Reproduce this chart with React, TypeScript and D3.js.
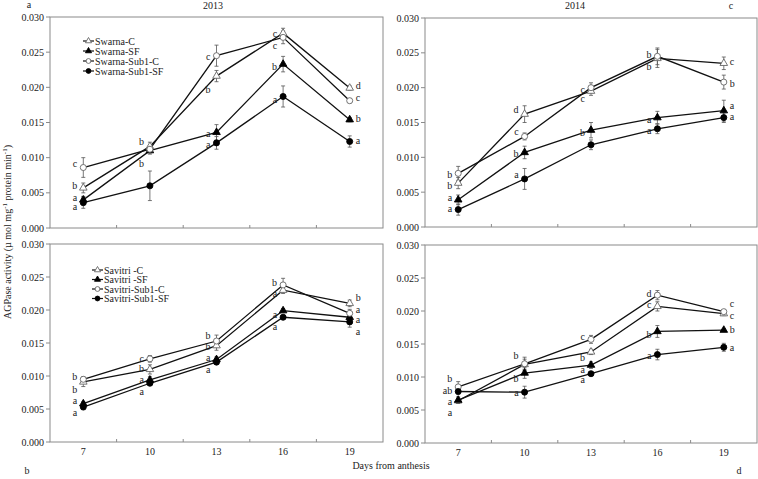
import React from "react";
import * as d3 from "d3";

// x categories (days from anthesis) and y ticks
const days = ["7", "10", "13", "16", "19"];
const yTicks = [0, 0.005, 0.01, 0.015, 0.02, 0.025, 0.03];

// a: Swarna 2013
const swarnaC13 = [0.0057, 0.0116, 0.0216, 0.0277, 0.0199];
const swarnaC13Err = [0.0007, 0.0006, 0.0008, 0.0007, 0.0003];
const swarnaSF13 = [0.004, 0.011, 0.0136, 0.0233, 0.0154];
const swarnaSF13Err = [0.0005, 0.0005, 0.0011, 0.0011, 0.0003];
const swarnaSubC13 = [0.0086, 0.0112, 0.0245, 0.0271, 0.0181];
const swarnaSubC13Err = [0.0014, 0.0005, 0.0015, 0.0009, 0.0003];
const swarnaSubSF13 = [0.0036, 0.006, 0.0121, 0.0187, 0.0123];
const swarnaSubSF13Err = [0.0008, 0.0021, 0.0009, 0.0015, 0.0008];
const swarnaLetters13 = [
  { day: "7", text: "c", at: 0.0091 }, { day: "7", text: "b", at: 0.0061 },
  { day: "7", text: "a", at: 0.0044 }, { day: "7", text: "a", at: 0.003 },
  { day: "10", text: "b", at: 0.0123 }, { day: "10", text: "b", at: 0.0092 },
  { day: "13", text: "c", at: 0.0244 }, { day: "13", text: "b", at: 0.0197 },
  { day: "13", text: "a", at: 0.0135 }, { day: "13", text: "a", at: 0.0119 },
  { day: "16", text: "c", at: 0.0276 }, { day: "16", text: "c", at: 0.026 },
  { day: "16", text: "b", at: 0.023 }, { day: "16", text: "a", at: 0.0182 },
  { day: "19", text: "d", at: 0.0202 }, { day: "19", text: "c", at: 0.0185 },
  { day: "19", text: "b", at: 0.0155 }, { day: "19", text: "a", at: 0.0124 },
];

// c: Swarna 2014
const swarnaC14 = [0.0063, 0.0162, 0.0195, 0.0242, 0.0235];
const swarnaC14Err = [0.0008, 0.0012, 0.0006, 0.0013, 0.0009];
const swarnaSF14 = [0.0039, 0.0107, 0.0139, 0.0157, 0.0167];
const swarnaSF14Err = [0.0007, 0.0009, 0.0011, 0.0009, 0.0015];
const swarnaSubC14 = [0.0077, 0.013, 0.02, 0.0245, 0.0208];
const swarnaSubC14Err = [0.001, 0.0005, 0.0007, 0.0012, 0.001];
const swarnaSubSF14 = [0.0025, 0.0069, 0.0118, 0.0141, 0.0157];
const swarnaSubSF14Err = [0.0008, 0.0015, 0.0007, 0.0007, 0.0007];
const swarnaLetters14 = [
  { day: "7", text: "b", at: 0.0076 }, { day: "7", text: "b", at: 0.006 },
  { day: "7", text: "a", at: 0.0043 }, { day: "7", text: "a", at: 0.0026 },
  { day: "10", text: "d", at: 0.0169 }, { day: "10", text: "c", at: 0.0137 },
  { day: "10", text: "b", at: 0.0106 }, { day: "10", text: "a", at: 0.0076 },
  { day: "13", text: "c", at: 0.0198 }, { day: "13", text: "c", at: 0.0184 },
  { day: "13", text: "b", at: 0.0136 },
  { day: "16", text: "b", at: 0.0248 }, { day: "16", text: "b", at: 0.0231 },
  { day: "16", text: "a", at: 0.0154 }, { day: "16", text: "a", at: 0.0138 },
  { day: "19", text: "c", at: 0.0237 }, { day: "19", text: "b", at: 0.0206 },
  { day: "19", text: "a", at: 0.0175 }, { day: "19", text: "a", at: 0.0159 },
];

// b: Savitri 2013
const savitriC13 = [0.0091, 0.011, 0.0146, 0.023, 0.021];
const savitriC13Err = [0.0007, 0.0007, 0.0007, 0.0005, 0.0005];
const savitriSF13 = [0.0058, 0.0094, 0.0125, 0.0199, 0.0189];
const savitriSF13Err = [0.0003, 0.0005, 0.0004, 0.0003, 0.0004];
const savitriSubC13 = [0.0095, 0.0126, 0.0153, 0.0238, 0.0195];
const savitriSubC13Err = [0.0004, 0.0005, 0.0009, 0.001, 0.0006];
const savitriSubSF13 = [0.0053, 0.0089, 0.0121, 0.0189, 0.0182];
const savitriSubSF13Err = [0.0004, 0.0003, 0.0003, 0.0003, 0.0008];
const savitriLetters13 = [
  { day: "7", text: "b", at: 0.0099 }, { day: "7", text: "b", at: 0.008 },
  { day: "7", text: "a", at: 0.0063 }, { day: "7", text: "a", at: 0.0045 },
  { day: "10", text: "c", at: 0.0127 }, { day: "10", text: "b", at: 0.0112 },
  { day: "10", text: "a", at: 0.0094 }, { day: "10", text: "a", at: 0.0077 },
  { day: "13", text: "b", at: 0.0161 }, { day: "13", text: "b", at: 0.0144 },
  { day: "13", text: "a", at: 0.0128 }, { day: "13", text: "a", at: 0.011 },
  { day: "16", text: "b", at: 0.0242 }, { day: "16", text: "a", at: 0.0225 },
  { day: "16", text: "a", at: 0.0193 }, { day: "16", text: "a", at: 0.0175 },
  { day: "19", text: "b", at: 0.0219 }, { day: "19", text: "a", at: 0.0201 },
  { day: "19", text: "a", at: 0.0185 }, { day: "19", text: "a", at: 0.0168 },
];

// d: Savitri 2014
const savitriC14 = [0.0064, 0.0119, 0.0138, 0.0207, 0.0196];
const savitriC14Err = [0.0004, 0.0008, 0.0004, 0.0007, 0.0003];
const savitriSF14 = [0.0065, 0.0106, 0.0118, 0.0169, 0.0171];
const savitriSF14Err = [0.0005, 0.0008, 0.0005, 0.0009, 0.0002];
const savitriSubC14 = [0.0085, 0.012, 0.0157, 0.0224, 0.0199];
const savitriSubC14Err = [0.0008, 0.001, 0.0006, 0.0007, 0.0003];
const savitriSubSF14 = [0.0078, 0.0077, 0.0105, 0.0134, 0.0145];
const savitriSubSF14Err = [0.0004, 0.0009, 0.0003, 0.0008, 0.0006];
const savitriLetters14 = [
  { day: "7", text: "b", at: 0.0098 }, { day: "7", text: "ab", at: 0.0079 },
  { day: "7", text: "a", at: 0.0063 }, { day: "7", text: "a", at: 0.0046 },
  { day: "10", text: "b", at: 0.0132 }, { day: "10", text: "b", at: 0.0098 },
  { day: "10", text: "a", at: 0.0077 },
  { day: "13", text: "c", at: 0.0161 }, { day: "13", text: "b", at: 0.013 },
  { day: "13", text: "a", at: 0.0112 }, { day: "13", text: "a", at: 0.0096 },
  { day: "16", text: "d", at: 0.0227 }, { day: "16", text: "c", at: 0.021 },
  { day: "16", text: "b", at: 0.0165 }, { day: "16", text: "a", at: 0.0132 },
  { day: "19", text: "c", at: 0.0211 }, { day: "19", text: "c", at: 0.0193 },
  { day: "19", text: "b", at: 0.0172 }, { day: "19", text: "a", at: 0.0144 },
];

const swarnaNames = ["Swarna-C", "Swarna-SF", "Swarna-Sub1-C", "Swarna-Sub1-SF"];
const savitriNames = ["Savitri -C", "Savitri -SF", "Savitri-Sub1-C", "Savitri-Sub1-SF"];

// marker per series: C open triangle, SF filled triangle, Sub1-C open circle, Sub1-SF filled circle
const markers = [
  { shape: d3.symbolTriangle, filled: false },
  { shape: d3.symbolTriangle, filled: true },
  { shape: d3.symbolCircle, filled: false },
  { shape: d3.symbolCircle, filled: true },
];

const FONT = "'Liberation Serif', 'Times New Roman', serif";
const TXT = "#222";
const FRAME = "#8a8a8a";

function Marker({ i, x, y, size }) {
  const m = markers[i];
  const s = m.shape === d3.symbolTriangle ? size : size * 1.15;
  const path = d3.symbol(m.shape, s)();
  return (
    <path
      d={path}
      transform={`translate(${x},${y})`}
      fill={m.filled ? "#000" : "#fff"}
      stroke={m.filled ? "#000" : "#666"}
      strokeWidth={0.9}
    />
  );
}

function Panel({ box, series, errors, letters, names, legendAt, showX }) {
  const x = d3.scaleBand().domain(days).range([box.x0, box.x1]);
  const y = d3.scaleLinear().domain([0, 0.03]).range([box.y1, box.y0]);
  const cx = (d) => x(d) + x.bandwidth() / 2;
  const line = d3.line().x((d, i) => cx(days[i])).y((d) => y(d));
  const bounds = days.slice(1).map((d) => x(d));

  return (
    <g>
      <rect x={box.x0} y={box.y0} width={box.x1 - box.x0} height={box.y1 - box.y0}
        fill="none" stroke={FRAME} strokeWidth={1} />
      {yTicks.map((t) => (
        <g key={t}>
          <line x1={box.x0 - 4} x2={box.x0} y1={y(t)} y2={y(t)} stroke={FRAME} />
          <text x={box.x0 - 6} y={y(t)} dy="0.35em" textAnchor="end" fontSize={10}
            fontFamily={FONT} fill={TXT}>{d3.format(".3f")(t)}</text>
        </g>
      ))}
      {bounds.map((b) => (
        <line key={b} x1={b} x2={b} y1={box.y1} y2={box.y1 - 3} stroke={FRAME} />
      ))}
      {showX && days.map((d) => (
        <text key={d} x={cx(d)} y={box.y1 + 13} textAnchor="middle" fontSize={10}
          fontFamily={FONT} fill={TXT}>{d}</text>
      ))}
      {series.map((s, si) => (
        <path key={"l" + si} d={line(s)} fill="none" stroke="#111" strokeWidth={1.3} />
      ))}
      {series.map((s, si) => (
        <g key={"e" + si}>
          {s.map((v, i) => {
            const px = cx(days[i]);
            const e = errors[si][i];
            return (
              <g key={i} stroke="#555" strokeWidth={0.8}>
                <line x1={px} x2={px} y1={y(v - e)} y2={y(v + e)} />
                <line x1={px - 2} x2={px + 2} y1={y(v - e)} y2={y(v - e)} />
                <line x1={px - 2} x2={px + 2} y1={y(v + e)} y2={y(v + e)} />
              </g>
            );
          })}
        </g>
      ))}
      {series.map((s, si) => (
        <g key={"m" + si}>
          {s.map((v, i) => (
            <Marker key={i} i={si} x={cx(days[i])} y={y(v)} size={25} />
          ))}
        </g>
      ))}
      {letters.map((l, li) => {
        const right = l.day === "19";
        return (
          <text key={li} x={right ? cx(l.day) + 6 : cx(l.day) - 6} y={y(l.at)} dy="0.35em"
            textAnchor={right ? "start" : "end"} fontSize={10} fontFamily={FONT} fill={TXT}>
            {l.text}
          </text>
        );
      })}
      {names.map((n, i) => {
        const ly = legendAt.y + i * legendAt.step;
        return (
          <g key={n}>
            <line x1={legendAt.x} x2={legendAt.x + 11} y1={ly} y2={ly} stroke="#111" strokeWidth={1.2} />
            <Marker i={i} x={legendAt.x + 5.5} y={ly} size={16} />
            <text x={legendAt.x + 12} y={ly} dy="0.35em" fontSize={10} fontFamily={FONT} fill={TXT}>{n}</text>
          </g>
        );
      })}
    </g>
  );
}

export default function App() {
  const W = 758;
  const H = 479;
  return (
    <svg width={W} height={H} style={{ position: "absolute", left: 0, top: 0, background: "#fff" }}>
      <rect width={W} height={H} fill="#fff" />
      <Panel
        box={{ x0: 50, x1: 383, y0: 17, y1: 228 }}
        series={[swarnaC13, swarnaSF13, swarnaSubC13, swarnaSubSF13]}
        errors={[swarnaC13Err, swarnaSF13Err, swarnaSubC13Err, swarnaSubSF13Err]}
        letters={swarnaLetters13}
        names={swarnaNames}
        legendAt={{ x: 83, y: 41, step: 10 }}
        showX={false}
      />
      <Panel
        box={{ x0: 425, x1: 757, y0: 18, y1: 227 }}
        series={[swarnaC14, swarnaSF14, swarnaSubC14, swarnaSubSF14]}
        errors={[swarnaC14Err, swarnaSF14Err, swarnaSubC14Err, swarnaSubSF14Err]}
        letters={swarnaLetters14}
        names={[]}
        legendAt={{ x: 0, y: 0, step: 0 }}
        showX={false}
      />
      <Panel
        box={{ x0: 50, x1: 383, y0: 244, y1: 442 }}
        series={[savitriC13, savitriSF13, savitriSubC13, savitriSubSF13]}
        errors={[savitriC13Err, savitriSF13Err, savitriSubC13Err, savitriSubSF13Err]}
        letters={savitriLetters13}
        names={savitriNames}
        legendAt={{ x: 92, y: 270, step: 9.5 }}
        showX={true}
      />
      <Panel
        box={{ x0: 425, x1: 757, y0: 245, y1: 443 }}
        series={[savitriC14, savitriSF14, savitriSubC14, savitriSubSF14]}
        errors={[savitriC14Err, savitriSF14Err, savitriSubC14Err, savitriSubSF14Err]}
        letters={savitriLetters14}
        names={[]}
        legendAt={{ x: 0, y: 0, step: 0 }}
        showX={true}
      />
      <g fontFamily={FONT} fill={TXT} fontSize={10}>
        <text x={213} y={9} textAnchor="middle">2013</text>
        <text x={575} y={9} textAnchor="middle">2014</text>
        <text x={29} y={8} textAnchor="middle">a</text>
        <text x={731} y={9} textAnchor="middle">c</text>
        <text x={27} y={474} textAnchor="middle">b</text>
        <text x={739} y={474} textAnchor="middle">d</text>
        <text x={391} y={469} textAnchor="middle">Days from anthesis</text>
        <text transform="translate(11,232) rotate(-90)" textAnchor="middle">
          AGPase activity (µ mol mg<tspan dy={-4} fontSize={7}>-1</tspan>
          <tspan dy={4}> protein min</tspan><tspan dy={-4} fontSize={7}>-1</tspan>
          <tspan dy={4}>)</tspan>
        </text>
      </g>
    </svg>
  );
}
